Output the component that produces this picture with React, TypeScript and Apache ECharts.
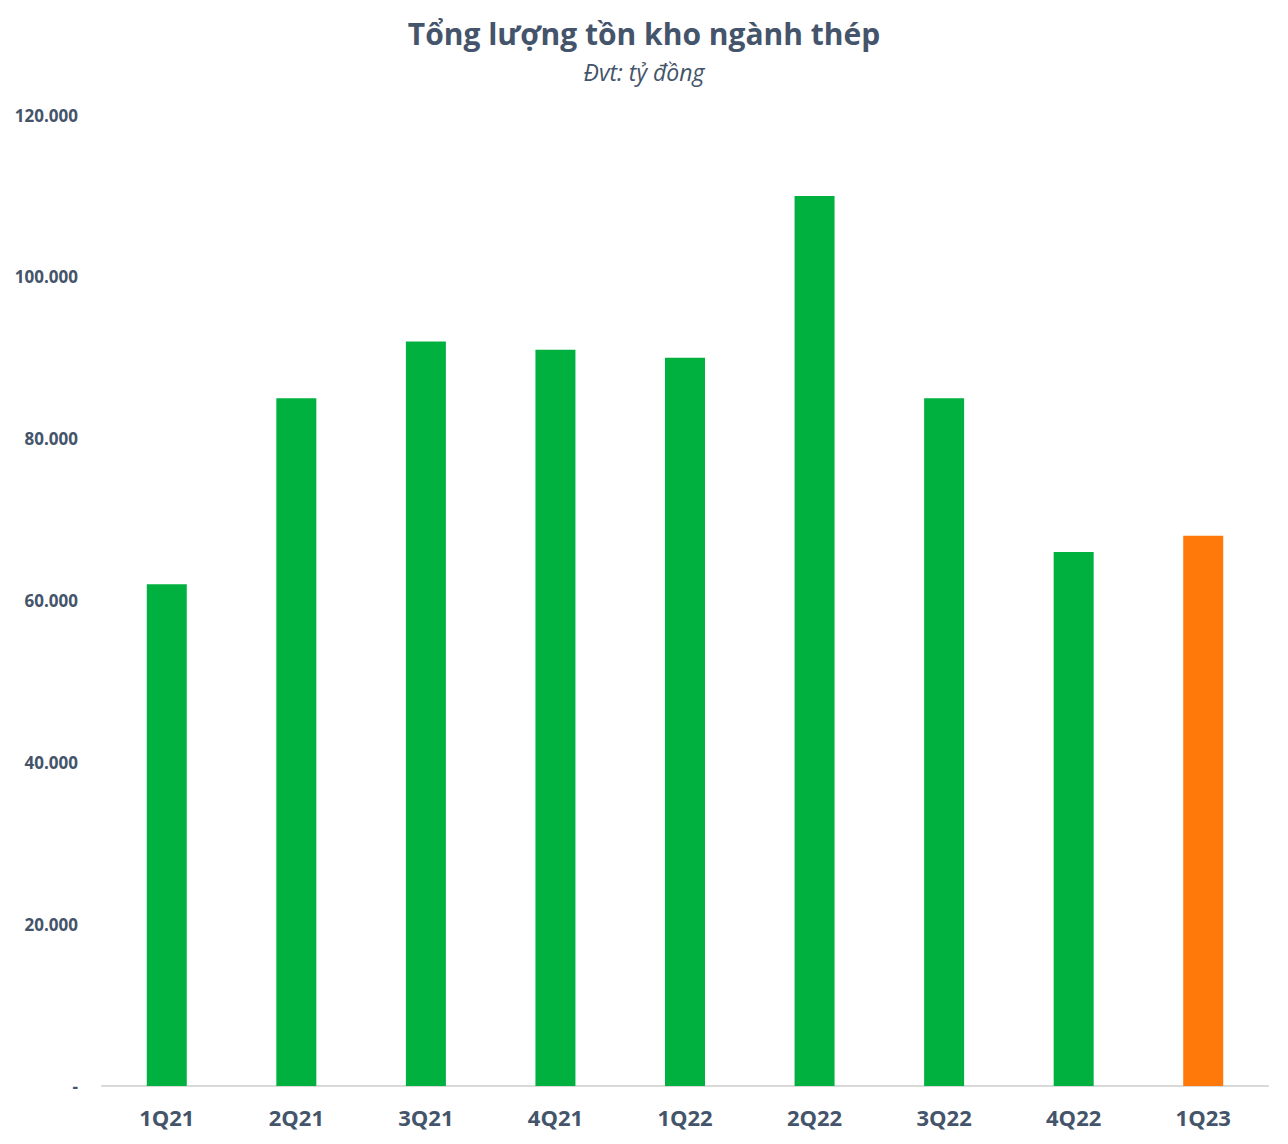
import React, { useEffect, useRef } from "react";
import * as echarts from "echarts";

const categories = ["1Q21", "2Q21", "3Q21", "4Q21", "1Q22", "2Q22", "3Q22", "4Q22", "1Q23"];
const values = [62000, 85000, 92000, 91000, 90000, 110000, 85000, 66000, 68000];
const barColors = ["#00B140", "#00B140", "#00B140", "#00B140", "#00B140", "#00B140", "#00B140", "#00B140", "#FF780A"];
const titleText = "Tổng lượng tồn kho ngành thép";
const subtitleText = "Đvt: tỷ đồng";

const fmt = (v: number) => (v === 0 ? "-" : v.toLocaleString("de-DE"));

export default function App() {
  const ref = useRef<HTMLDivElement>(null);
  useEffect(() => {
    if (!ref.current) return;
    const chart = echarts.init(ref.current, null, { renderer: "svg" });
    const font = "'Open Sans', 'Noto Sans', sans-serif";
    chart.setOption({
      animation: false,
      backgroundColor: "#FFFFFF",
      textStyle: { fontFamily: font },
      title: [
        {
          text: titleText,
          left: "center",
          top: 5,
          textStyle: { fontFamily: font, fontSize: 30, fontWeight: "bold", color: "#44546A" },
        },
        {
          text: subtitleText,
          left: "center",
          top: 47,
          textStyle: { fontFamily: font, fontSize: 23, fontStyle: "italic", fontWeight: "normal", color: "#44546A" },
        },
      ],
      grid: { left: 94, top: 107, width: 1166, height: 971 },
      xAxis: {
        type: "category",
        data: categories,
        axisLine: { lineStyle: { color: "#D9D9D9", width: 2 } },
        axisTick: { show: false },
        axisLabel: { color: "#44546A", fontSize: 22, fontWeight: "bold", margin: 20, fontFamily: font },
      },
      yAxis: {
        type: "value",
        min: 0,
        max: 120000,
        interval: 20000,
        splitLine: { show: false },
        axisLine: { show: false },
        axisTick: { show: false },
        axisLabel: {
          color: "#44546A",
          fontSize: 17,
          fontWeight: "bold",
          margin: 24,
          fontFamily: font,
          formatter: (v: number) => fmt(v),
        },
      },
      series: [
        {
          type: "bar",
          barWidth: 40,
          data: values.map((v, i) => ({ value: v, itemStyle: { color: barColors[i] } })),
        },
      ],
    });
    return () => chart.dispose();
  }, []);
  return <div ref={ref} style={{ width: 1272, height: 1128 }} />;
}
